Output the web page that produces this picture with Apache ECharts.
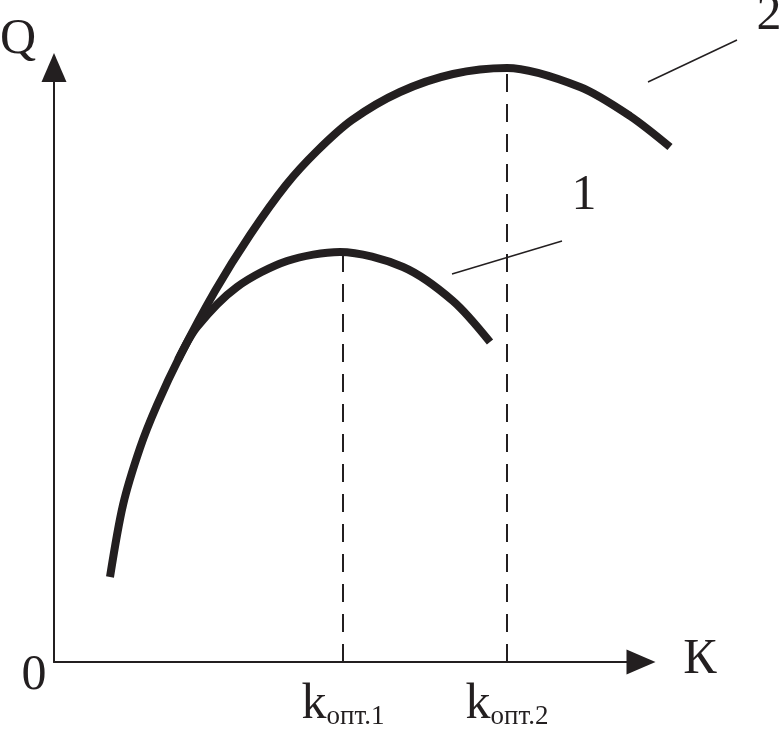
<!DOCTYPE html>
<html>
<head>
<meta charset="utf-8">
<script src="https://cdn.jsdelivr.net/npm/echarts@6/dist/echarts.min.js"></script>
<style>html,body{margin:0;padding:0;background:#fff}#c{width:780px;height:731px}</style>
</head>
<body>
<div id="c"></div>
<script>
// Curve 2 (K, Q) (axis units)
var curve2K = [56, 69, 86, 103, 126, 161, 196, 232, 263, 298, 346, 399, 453, 526, 576, 616];
var curve2Q = [85, 157, 214, 257, 306, 371, 427, 477, 511, 542, 570, 588, 594, 575, 546, 515];
// Curve 1
var curve1K = [124, 143, 183, 233, 286, 349, 399, 436];
var curve1Q = [302, 335, 375, 401, 410, 395, 361, 320];
// Optimal K values and the peaks above them
var kOpt = [289, 453];
var kPeakQ = [410, 594];
var kLabelSub = ['опт.1', 'опт.2'];
// Leader lines for curve labels
var leader1K = [398, 508], leader1Q = [388, 421];
var leader2K = [594, 683], leader2Q = [580, 622];

function pairs(a, b) { return a.map(function (v, i) { return [v, b[i]]; }); }

var INK = '#231f20';
var chart = echarts.init(document.getElementById('c'), null, { renderer: 'canvas' });

var base = { type: 'line', symbol: 'none', clip: false, silent: true, xAxisIndex: 1, yAxisIndex: 1 };
function S(o) { return Object.assign({}, base, o); }

var series = [];
kOpt.forEach(function (k, i) {
  series.push(S({ data: [[k, 0], [k, kPeakQ[i]]], lineStyle: { color: INK, width: 2, type: [18, 12] }, z: 1 }));
});
series.push(S({ data: pairs(leader1K, leader1Q), lineStyle: { color: INK, width: 1.5 }, z: 2 }));
series.push(S({ data: pairs(leader2K, leader2Q), lineStyle: { color: INK, width: 1.5 }, z: 2 }));
series.push(S({ data: pairs(curve1K, curve1Q), smooth: 0.3, lineStyle: { color: INK, width: 8 }, z: 3 }));
series.push(S({ data: pairs(curve2K, curve2Q), smooth: 0.3, lineStyle: { color: INK, width: 8 }, z: 3 }));

var FONT = '"Liberation Serif", "Times New Roman", serif';
function txt(t, x, y) {
  return { type: 'text', x: x, y: y, silent: true,
    style: { text: t, font: '50px ' + FONT, fill: INK, textAlign: 'center', textVerticalAlign: 'middle',
      align: 'center', verticalAlign: 'middle' } };
}
var hidden = { show: false, splitLine: { show: false }, axisTick: { show: false }, axisLabel: { show: false }, axisLine: { show: false } };

chart.setOption({
  animation: false,
  backgroundColor: '#fff',
  grid: [
    { left: 54, right: 139, top: 67.5, bottom: 69, outerBoundsMode: 'none', containLabel: false },
    { left: 54, right: 0, top: 0, bottom: 69, outerBoundsMode: 'none', containLabel: false }
  ],
  xAxis: [{
    type: 'value', min: 0, max: 587, gridIndex: 0,
    splitLine: { show: false }, axisTick: { show: false },
    axisLine: { show: true, onZero: false, symbol: ['none', 'triangle'], symbolSize: [25, 29],
      lineStyle: { color: INK, width: 2 } },
    axisLabel: {
      show: true, customValues: kOpt, margin: 18, color: INK,
      formatter: function (v) { var i = kOpt.indexOf(v); return i < 0 ? '' : '{k|k}{s|' + kLabelSub[i] + '}'; },
      rich: {
        k: { fontFamily: FONT, fontSize: 50, lineHeight: 50, verticalAlign: 'bottom', color: INK },
        s: { fontFamily: FONT, fontSize: 27, lineHeight: 19, verticalAlign: 'bottom', color: INK }
      }
    }
  }, Object.assign({ type: 'value', min: 0, max: 726, gridIndex: 1 }, hidden)],
  yAxis: [{
    type: 'value', min: 0, max: 594.5, gridIndex: 0,
    splitLine: { show: false }, axisTick: { show: false }, axisLabel: { show: false },
    axisLine: { show: true, onZero: false, symbol: ['none', 'triangle'], symbolSize: [25, 29],
      lineStyle: { color: INK, width: 2 } }
  }, Object.assign({ type: 'value', min: 0, max: 662, gridIndex: 1 }, hidden)],
  graphic: [
    txt('Q', 18, 40),
    txt('0', 34, 676),
    txt('К', 700, 660),
    txt('1', 584, 196),
    txt('2', 769, 16)
  ],
  series: series
});
</script>
</body>
</html>
